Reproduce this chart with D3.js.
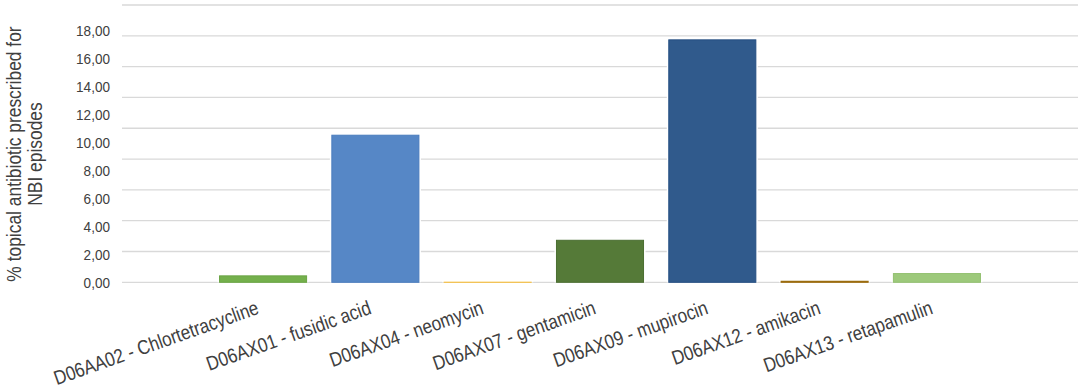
<!DOCTYPE html>
<html>
<head>
<meta charset="utf-8">
<script src="https://cdn.jsdelivr.net/npm/d3@7/dist/d3.min.js"></script>
<style>
  html, body { margin: 0; padding: 0; background: #fff; }
  svg { display: block; font-family: "Liberation Sans", Arial, sans-serif; }
</style>
</head>
<body>
<svg id="chart" width="1084" height="390"></svg>
<script>
// ---- data ----
const categories = [
  "D06AA02 - Chlortetracycline",
  "D06AX01 - fusidic acid",
  "D06AX04 - neomycin",
  "D06AX07 - gentamicin",
  "D06AX09 - mupirocin",
  "D06AX12 - amikacin",
  "D06AX13 - retapamulin"
];
const values = [0.45, 9.58, 0.04, 2.76, 15.77, 0.10, 0.60];
const yTicks = [0, 2, 4, 6, 8, 10, 12, 14, 16, 18];
const yTickLabels = ["0,00", "2,00", "4,00", "6,00", "8,00", "10,00", "12,00", "14,00", "16,00", "18,00"];
const fills   = ["#74B04C", "#5687C6", "#FFC54A", "#557A38", "#305A8C", "#B07C14", "#9DC97B"];
const strokes = ["#6AA444", "#4A7CBE", "#F5BC3A", "#4A6E31", "#244E82", "#9A6A0C", "#93C070"];
const yTitleLines = ["% topical antibiotic prescribed for", "NBI episodes"];

// ---- layout ----
const svg = d3.select("#chart");
const plotLeft = 122, plotRight = 1078, plotTop = 5, plotBottom = 282.3;

const x = d3.scaleBand()
  .domain(categories)
  .range([plotLeft, plotRight])
  .paddingInner(0.216)
  .paddingOuter(0.864);

const y = d3.scaleLinear().domain([0, 18]).range([plotBottom, plotTop]);
// tick label column (slightly compressed in the reference)
const yLab = d3.scaleLinear().domain([0, 18]).range([plotBottom, 30.7]);

// gridlines
svg.append("g")
  .selectAll("line")
  .data(yTicks)
  .join("line")
  .attr("x1", plotLeft).attr("x2", plotRight)
  .attr("y1", d => y(d)).attr("y2", d => y(d))
  .attr("stroke", "#d9d9d9")
  .attr("stroke-width", 1.3);

// tick labels (slightly narrow glyphs, as in the reference)
svg.append("g")
  .selectAll("text")
  .data(yTicks)
  .join("text")
  .attr("transform", d => `translate(110,${yLab(d)}) scale(0.88,1)`)
  .attr("dy", "0.36em")
  .attr("text-anchor", "end")
  .attr("font-size", 15.4)
  .attr("fill", "#404040")
  .text((d, i) => yTickLabels[i]);

// bars: white halo + bar
const bars = svg.append("g");
bars.selectAll("rect.halo")
  .data(values)
  .join("rect")
  .attr("class", "halo")
  .attr("x", (d, i) => x(categories[i]) - 1.5)
  .attr("width", x.bandwidth() + 3)
  .attr("y", d => y(d) - 1.5)
  .attr("height", d => y(0) - y(d) + 1.5)
  .attr("fill", "#fff");

bars.selectAll("rect.bar")
  .data(values)
  .join("rect")
  .attr("class", "bar")
  .attr("x", (d, i) => x(categories[i]) + 0.5)
  .attr("width", x.bandwidth() - 1)
  .attr("y", d => y(d) + 0.5)
  .attr("height", d => Math.max(0, y(0) - y(d) - 0.5))
  .attr("fill", (d, i) => fills[i])
  .attr("stroke", (d, i) => strokes[i])
  .attr("stroke-width", 1);

// x labels
svg.append("g")
  .selectAll("text")
  .data(categories)
  .join("text")
  .attr("transform", d => `translate(${x(d) + x.bandwidth() / 2 - 3},${plotBottom + 31}) rotate(-19.5) scale(0.92,1.08)`)
  .attr("text-anchor", "end")
  .attr("font-size", 18.6)
  .attr("fill", "#404040")
  .text(d => d);

// y title
svg.append("g")
  .selectAll("text")
  .data(yTitleLines)
  .join("text")
  .attr("transform", (d, i) => `translate(${21 + i * 21},154) rotate(-90) scale(1,1.12)`)
  .attr("text-anchor", "middle")
  .attr("font-size", 17.4)
  .attr("fill", "#404040")
  .text(d => d);
</script>
</body>
</html>
